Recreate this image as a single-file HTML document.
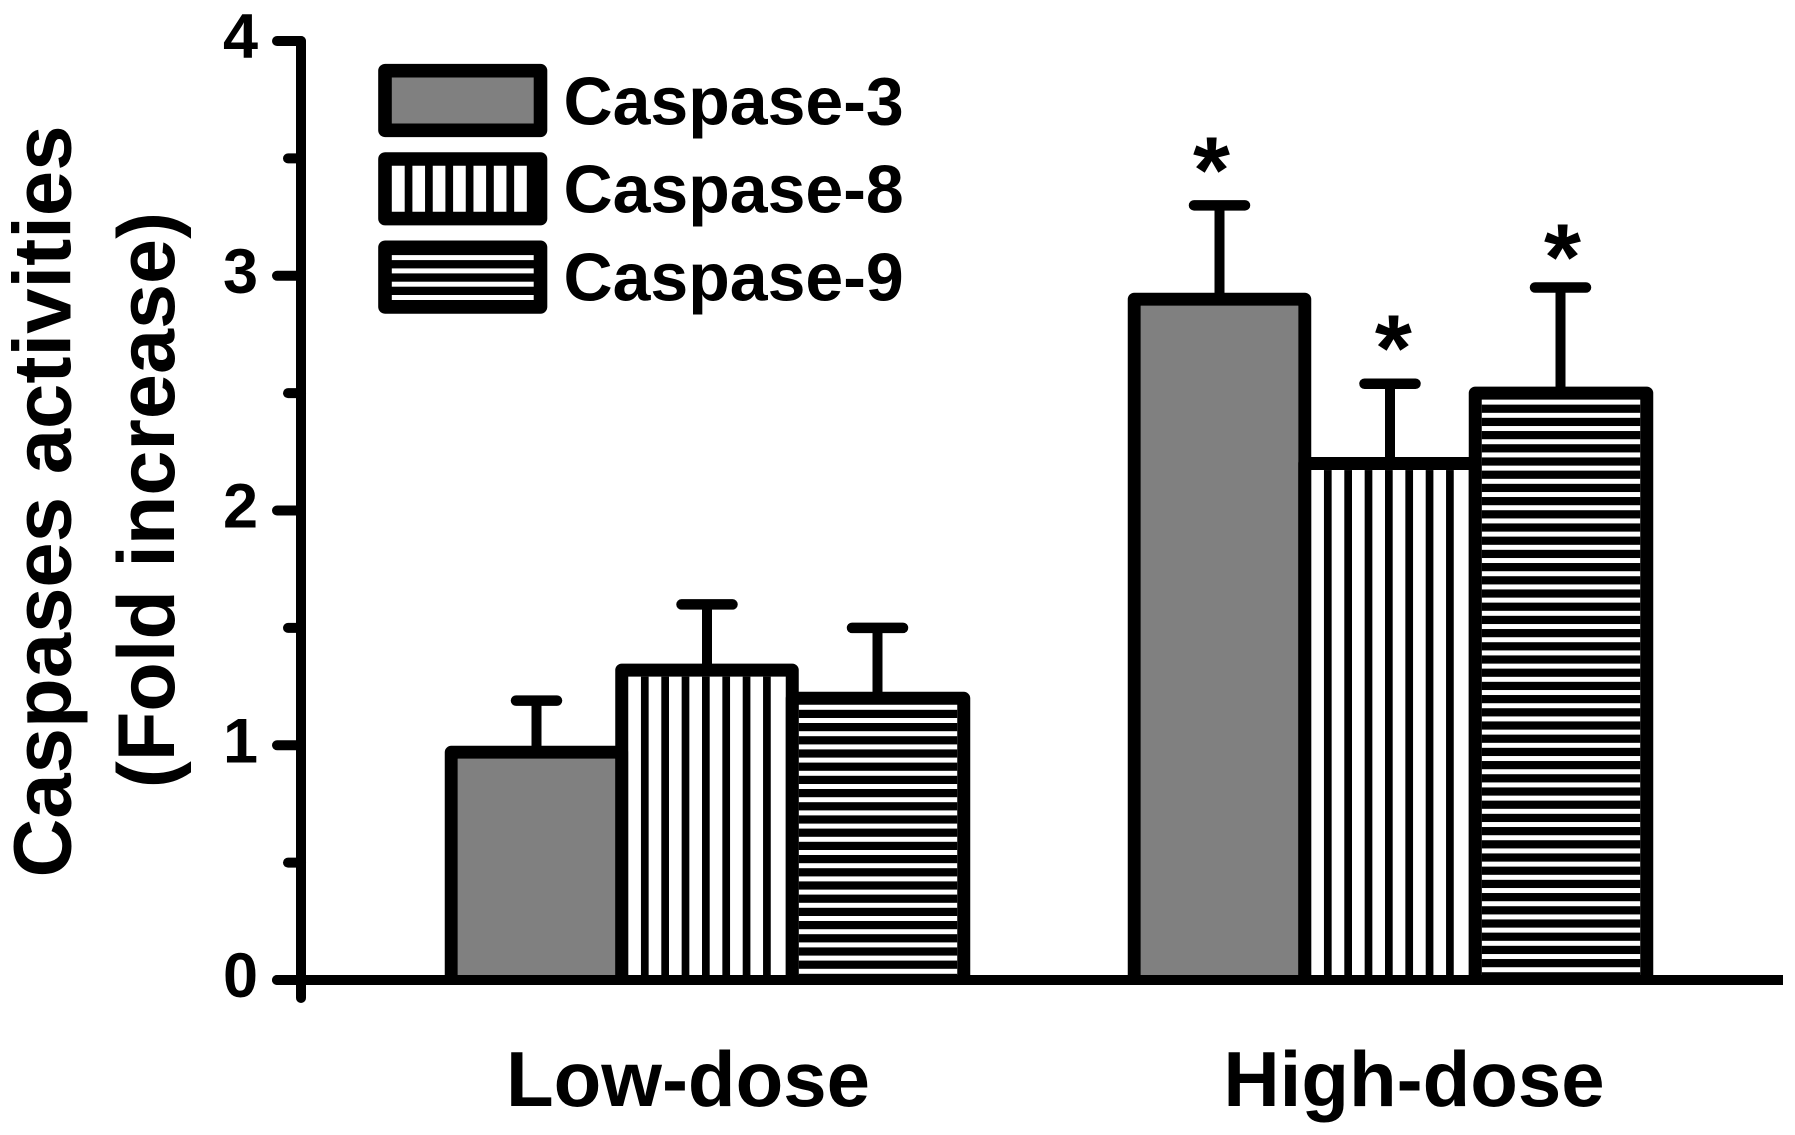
<!DOCTYPE html>
<html lang="en">
<head>
<meta charset="utf-8">
<title>Caspases activities chart</title>
<style>
html,body{margin:0;padding:0;background:#fff;}
svg{display:block;}
text{font-family:"Liberation Sans",Arial,sans-serif;font-weight:bold;fill:#000;}
</style>
</head>
<body>
<svg id="chart" xmlns="http://www.w3.org/2000/svg" width="1795" height="1135" viewBox="0 0 1795 1135">
  <rect x="0" y="0" width="1795" height="1135" fill="#fff"/>
  <text transform="translate(70.5,501.5) rotate(-90)" text-anchor="middle" font-size="81.5">Caspases activities</text>
  <text transform="translate(174,500) rotate(-90)" text-anchor="middle" font-size="81">(Fold increase)</text>
  <g id="bars"></g>
  <g id="axes"></g>
  <g id="legend"></g>
</svg>
<script>
const categories = ["Low-dose", "High-dose"];
const seriesNames = ["Caspase-3", "Caspase-8", "Caspase-9"];
const caspase3Values = [0.97, 2.90];
const caspase8Values = [1.32, 2.20];
const caspase9Values = [1.20, 2.50];
const caspase3Errors = [0.22, 0.40];
const caspase8Errors = [0.28, 0.34];
const caspase9Errors = [0.30, 0.45];
const caspase3Significant = [false, true];
const caspase8Significant = [false, true];
const caspase9Significant = [false, true];
const yTickLabels = [0, 1, 2, 3, 4];
const yMinorTicks = [0.5, 1.5, 2.5, 3.5];

const NS = "http://www.w3.org/2000/svg";
const barsG = document.getElementById("bars");
const axesG = document.getElementById("axes");
const legendG = document.getElementById("legend");

function yPos(v) { return 980 - v * 234.75; }
function xGroup(i) { return 707 + i * 683; }
function xBar(g, s) { return xGroup(g) + (s - 1) * 170.5; }

function mk(parent, tag, attrs, txt) {
  const el = document.createElementNS(NS, tag);
  for (const k in attrs) el.setAttribute(k, attrs[k]);
  if (txt !== undefined) el.textContent = txt;
  parent.appendChild(el);
  return el;
}
function line(parent, x1, y1, x2, y2, w, cap) {
  return mk(parent, "line", {x1: x1, y1: y1, x2: x2, y2: y2, stroke: "#000", "stroke-width": w, "stroke-linecap": cap || "round"});
}

const STROKE = 13;
const BAR_W = 170.5;
const values = [caspase3Values, caspase8Values, caspase9Values];
const errors = [caspase3Errors, caspase8Errors, caspase9Errors];
const signif = [caspase3Significant, caspase8Significant, caspase9Significant];
const seriesKeys = ["caspase-3", "caspase-8", "caspase-9"];

function drawFill(parent, kind, left, top, right, bottom) {
  if (kind === 0) {
    const r = mk(parent, "rect", {x: left, y: top, width: right - left, height: bottom - top, fill: "#808080"});
    
    
    return;
  }
  const bg = mk(parent, "rect", {x: left, y: top, width: right - left, height: bottom - top, fill: "#fff"});
  
  
  if (kind === 1) {
    for (let x = left + 12.7; x < right - 4; x += 20.35) {
      const st = mk(parent, "rect", {x: x, y: top, width: Math.min(7.7, right - x), height: bottom - top, fill: "#000"});
      
      
    }
  } else {
    for (let y = top + 5; y < bottom; y += 13.2) {
      const st = mk(parent, "rect", {x: left, y: y, width: right - left, height: Math.min(8.2, bottom - y), fill: "#000"});
      
      
    }
  }
}

const baseY = yPos(0);
const starOffsetsX = [-8, 3.4, 2];
const starOffsetsY = [-3, -3, 2];

categories.forEach(function (cat, g) {
  const group = mk(barsG, "g", {});
  
  

  // error bars first so the bars cover the stem foot
  values.forEach(function (vals, s) {
    const cx = xBar(g, s);
    const capY = yPos(vals[g] + errors[s][g]);
    const capHalf = (g === 0 && s === 0) ? 20.5 : 25.5;
    const eg = mk(group, "g", {});
    
    
    line(eg, cx, capY, cx, yPos(vals[g]), 10, "butt");
    line(eg, cx - capHalf, capY, cx + capHalf, capY, 10.5, "round");
  });

  values.forEach(function (vals, s) {
    const cx = xBar(g, s);
    const top = yPos(vals[g]);
    const left = cx - BAR_W / 2;
    const right = cx + BAR_W / 2 + (s === 2 ? 1 : 0);
    const bar = mk(group, "g", {});
    
    
    drawFill(bar, s, left + STROKE / 2, top + STROKE / 2, right - STROKE / 2, baseY);
    mk(bar, "path", {
      d: "M" + left + " " + baseY + "V" + top + "H" + right + "V" + baseY,
      fill: "none", stroke: "#000", "stroke-width": STROKE, "stroke-linejoin": "round"
    });
    if (signif[s][g]) {
      const star = mk(group, "text", {
        x: cx + starOffsetsX[s], y: yPos(vals[g] + errors[s][g]) + starOffsetsY[s],
        "text-anchor": "middle", "font-size": 95
      }, "*");
      
      
    }
  });

  const lab = mk(axesG, "text", {x: g === 0 ? 688 : 1414, y: 1106, "text-anchor": "middle", "font-size": 78}, cat);
  
  
});

// axes
const yAxis = line(axesG, 301, yPos(4), 301, 998, 10, "round");


const xAxis = line(axesG, 277, baseY, 1783, baseY, 10, "butt");


const xAxisStub = mk(axesG, "circle", {cx: 277, cy: baseY, r: 5, fill: "#000"});



yTickLabels.forEach(function (v) {
  const t = line(axesG, 277, yPos(v), 301, yPos(v), 10, "round");
  
  
  const l = mk(axesG, "text", {x: 258, y: yPos(v) + 17, "text-anchor": "end", "font-size": 63}, String(v));
  
  
});
yMinorTicks.forEach(function (v) {
  const t = line(axesG, 288, yPos(v), 301, yPos(v), 10, "round");
  
  
});

// legend
seriesNames.forEach(function (name, s) {
  const top = 70.7 + s * 88.3;
  const entry = mk(legendG, "g", {});
  
  
  const inset = 6.8;
  const L = 385, R = 540.5, T = top, B = top + 59.6;
  if (s === 0) {
    drawFill(entry, 0, L, T, R, B);
  } else if (s === 1) {
    drawFill(entry, 1, L + 7, T, R - 6, B);
  } else {
    const bg = mk(entry, "rect", {x: L, y: T, width: R - L, height: B - T, fill: "#000"});
    
    
    for (let k = 0; k < 4; k++) {
      const st = mk(entry, "rect", {x: L, y: T + 7.8 + k * 13.3, width: R - L, height: 5, fill: "#fff"});
      
      
    }
  }
  const frame = mk(entry, "rect", {x: L, y: T, width: R - L, height: B - T, fill: "none", stroke: "#000", "stroke-width": inset * 2, "stroke-linejoin": "round"});
  
  
  const txt = mk(entry, "text", {x: 563.5, y: 124.5 + s * 88, "font-size": 68}, name);
  
  
});
</script>
</body>
</html>
